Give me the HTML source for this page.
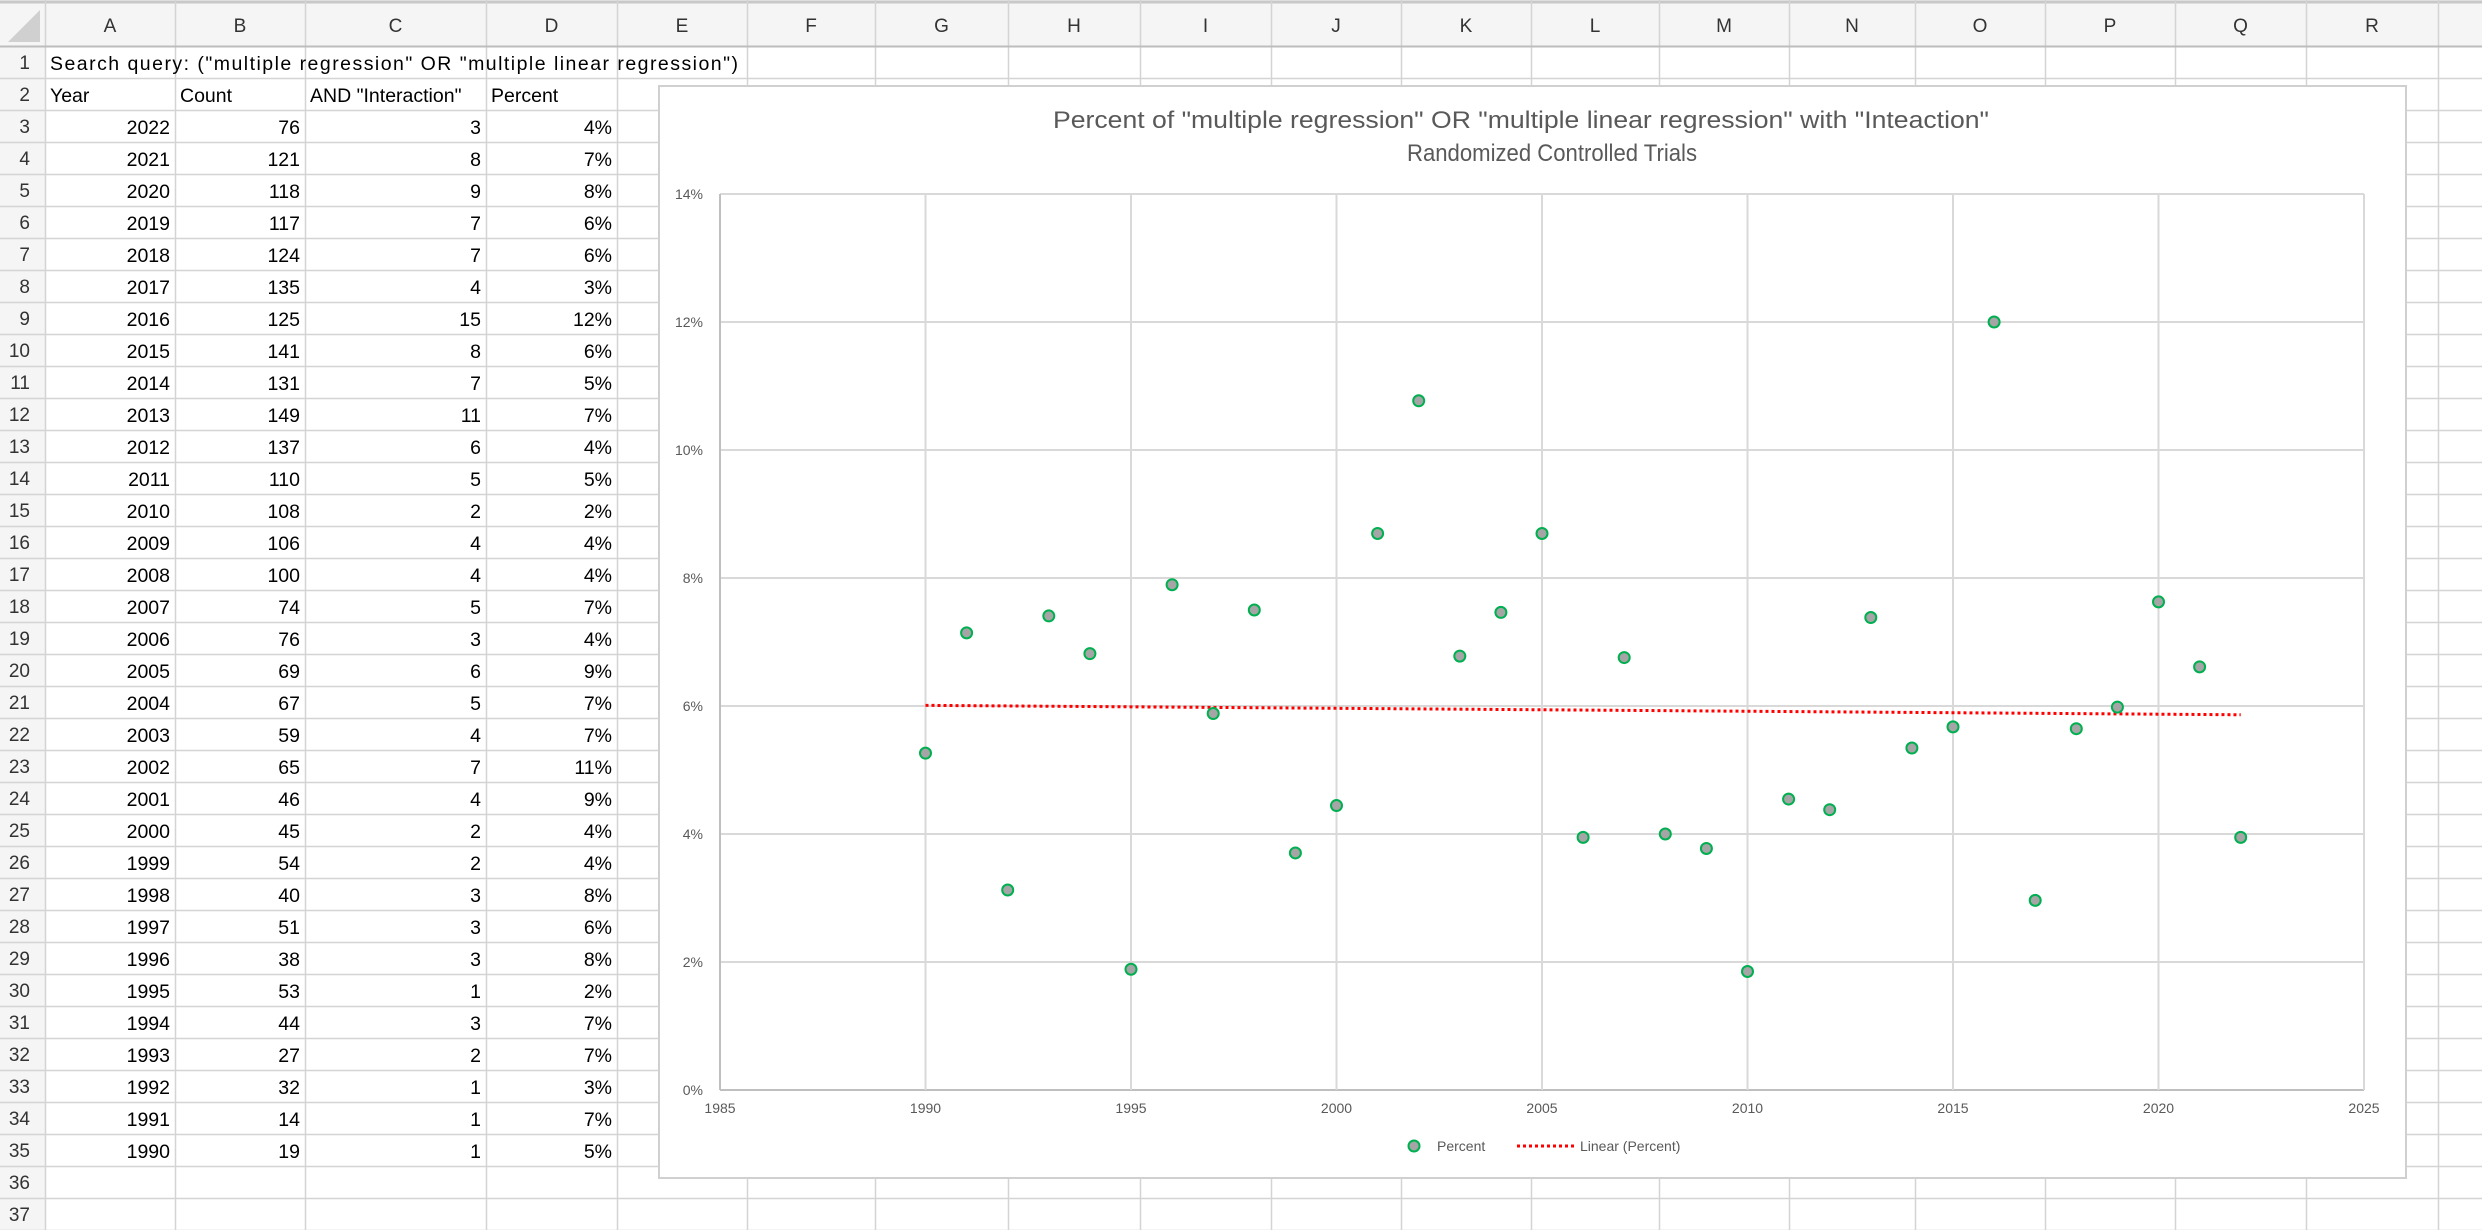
<!DOCTYPE html>
<html><head><meta charset="utf-8"><style>
html,body{margin:0;padding:0;background:#fff;}
svg{display:block;font-family:"Liberation Sans",sans-serif;}
</style></head><body>
<svg id="s" width="2482" height="1230" viewBox="0 0 2482 1230" xmlns="http://www.w3.org/2000/svg">
<g id="grid"></g>
<g id="chart"></g>
</svg>
<script>
const years=[2022,2021,2020,2019,2018,2017,2016,2015,2014,2013,2012,2011,2010,2009,2008,2007,2006,2005,2004,2003,2002,2001,2000,1999,1998,1997,1996,1995,1994,1993,1992,1991,1990];
const counts=[76,121,118,117,124,135,125,141,131,149,137,110,108,106,100,74,76,69,67,59,65,46,45,54,40,51,38,53,44,27,32,14,19];
const interactions=[3,8,9,7,7,4,15,8,7,11,6,5,2,4,4,5,3,6,5,4,7,4,2,2,3,3,3,1,3,2,1,1,1];
const xTicks=[1985,1990,1995,2000,2005,2010,2015,2020,2025];
const yTicks=[0,2,4,6,8,10,12,14];
const colLetters=["A","B","C","D","E","F","G","H","I","J","K","L","M","N","O","P","Q","R"];

const NS="http://www.w3.org/2000/svg";
function mk(tag,attrs,parent,text){const e=document.createElementNS(NS,tag);for(const k in attrs)e.setAttribute(k,attrs[k]);if(text!==undefined)e.textContent=text;parent.appendChild(e);return e;}
const grid=document.getElementById('grid');
// column boundaries
const colX=[45,175,305,486,617,747,875,1008,1140,1271,1401,1531,1659,1789,1915,2045,2175,2306,2438];
const rowTop=n=>46+32*(n-1);
// header backgrounds
let hb=mk('rect',{x:0,y:0,width:2482,height:46,fill:'#f5f5f5'},grid);

let rb=mk('rect',{x:0,y:46,width:45,height:1184,fill:'#f5f5f5'},grid);

mk('polygon',{points:'8,42 40,42 40,10',fill:'#d0d0d0'},grid);
mk('line',{x1:0,y1:2,x2:2482,y2:2,stroke:'#c8c8c8','stroke-width':3},grid);
// vertical lines
for(let i=0;i<colX.length;i++){
  mk('line',{x1:colX[i]+.5,y1:0,x2:colX[i]+.5,y2:1230,stroke:'#d4d4d4','stroke-width':1.5},grid);
}
for(let n=0;n<=37;n++){
  const y=46+32*n;
  mk('line',{x1:0,y1:y+.5,x2:2482,y2:y+.5,stroke:n===0?'#bdbdbd':'#d4d4d4','stroke-width':n===0?2:1.5},grid);
}
// column letters
colLetters.forEach((c,i)=>{
  const t=mk('text',{x:(colX[i]+colX[i+1])/2,y:32,'text-anchor':'middle','font-size':19,fill:'#333'},grid,c);
  
  
});
for(let n=1;n<=37;n++){
  const t=mk('text',{x:30,y:rowTop(n)+23,'text-anchor':'end','font-size':19,fill:'#333'},grid,String(n));
  
  
}
function cellText(txt,col,row,align,name){
  const x=align==='end'?colX[col+1]-5:colX[col]+5;
  const t=mk('text',{x:x,y:rowTop(row)+24,'text-anchor':align,'font-size':19.5,fill:'#000'},grid,txt);
  
  
  return t;
}
const q=cellText('Search query: ("multiple regression" OR "multiple linear regression")',0,1,'start','search-query-cell');
q.setAttribute('textLength','688');
cellText('Year',0,2,'start','year-header');
cellText('Count',1,2,'start','count-header');
cellText('AND "Interaction"',2,2,'start','interaction-header');
cellText('Percent',3,2,'start','percent-header');
years.forEach((yr,i)=>{
  const r=i+3;
  cellText(String(yr),0,r,'end','year-cell');
  cellText(String(counts[i]),1,r,'end','count-cell');
  cellText(String(interactions[i]),2,r,'end','interaction-cell');
  cellText(Math.round(interactions[i]/counts[i]*100)+'%',3,r,'end','percent-cell');
});

// chart
const ch=document.getElementById('chart');
const box=mk('rect',{x:659,y:86,width:1747,height:1092,fill:'#fff',stroke:'#d0d0d0','stroke-width':2},ch);

const L=720,R=2364,T=194,B=1090;
const xMin=1985,xMax=2025,yMax=14;
const xs=v=>L+(v-xMin)/(xMax-xMin)*(R-L);
const ys=v=>B-v/yMax*(B-T);
const t1=mk('text',{x:1521,y:128,'text-anchor':'middle','font-size':24,fill:'#595959',textLength:936,lengthAdjust:'spacingAndGlyphs'},ch,'Percent of "multiple regression" OR "multiple linear regression" with "Inteaction"');

const t2=mk('text',{x:1552,y:161,'text-anchor':'middle','font-size':24,fill:'#595959',textLength:290,lengthAdjust:'spacingAndGlyphs'},ch,'Randomized Controlled Trials');

yTicks.forEach(v=>{
  const g=mk('line',{x1:L,y1:ys(v),x2:R,y2:ys(v),stroke:v===0?'#bfbfbf':'#d9d9d9','stroke-width':2},ch);
  
  const t=mk('text',{x:703,y:ys(v)+5,'text-anchor':'end','font-size':14,fill:'#595959'},ch,v+'%');
  
});
xTicks.forEach(v=>{
  const g=mk('line',{x1:xs(v),y1:T,x2:xs(v),y2:B,stroke:v===xMin?'#bfbfbf':'#d9d9d9','stroke-width':2},ch);
  
  const t=mk('text',{x:xs(v),y:1113,'text-anchor':'middle','font-size':14,fill:'#595959'},ch,String(v));
  
});
// trendline via least squares
const pcts=interactions.map((v,i)=>v/counts[i]*100);
const n=years.length;
const mx=years.reduce((a,b)=>a+b,0)/n, my=pcts.reduce((a,b)=>a+b,0)/n;
let sxy=0,sxx=0;years.forEach((x,i)=>{sxy+=(x-mx)*(pcts[i]-my);sxx+=(x-mx)*(x-mx);});
const slope=sxy/sxx, icp=my-slope*mx;
const x0=Math.min(...years),x1=Math.max(...years);
const tl=mk('line',{x1:xs(x0),y1:ys(icp+slope*x0),x2:xs(x1),y2:ys(icp+slope*x1),stroke:'#ff0000','stroke-width':3,'stroke-dasharray':'3,3'},ch);

years.forEach((yr,i)=>{
  const c=mk('circle',{cx:xs(yr),cy:ys(pcts[i]),r:5.5,fill:'#a5a5a5',stroke:'#00b050','stroke-width':2},ch);
  
});
// legend
const lg=mk('g',{},ch);

const lm=mk('circle',{cx:1414,cy:1146,r:5.5,fill:'#a5a5a5',stroke:'#00b050','stroke-width':2},lg);

const lt=mk('text',{x:1437,y:1151,'font-size':14,fill:'#595959'},lg,'Percent');

const ll=mk('line',{x1:1517,y1:1146,x2:1576,y2:1146,stroke:'#ff0000','stroke-width':3,'stroke-dasharray':'3,3'},lg);

const lt2=mk('text',{x:1580,y:1151,'font-size':14,fill:'#595959'},lg,'Linear (Percent)');

</script>
</body></html>
